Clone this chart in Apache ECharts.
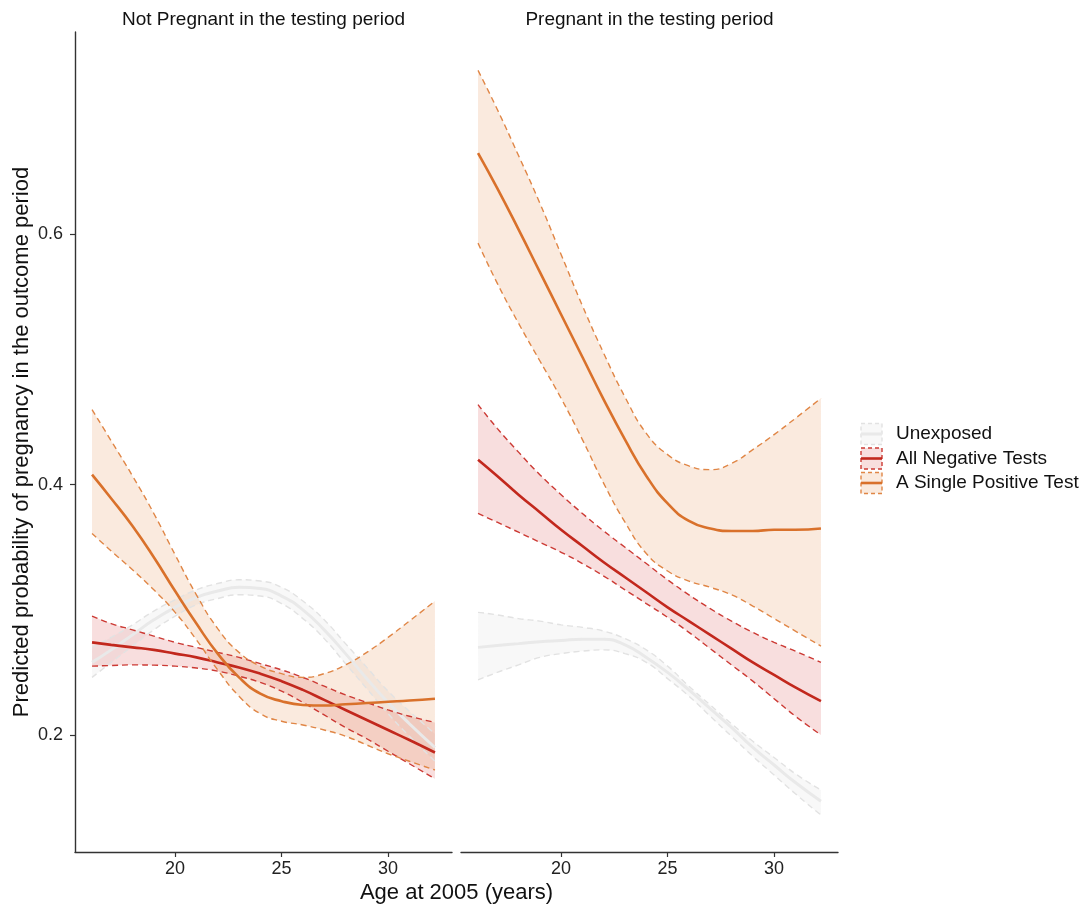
<!DOCTYPE html>
<html>
<head>
<meta charset="utf-8">
<script src="https://cdn.jsdelivr.net/npm/echarts@6/dist/echarts.min.js"></script>
<style>
  html, body { margin: 0; padding: 0; background: #fff; }
  #chart { width: 1087px; height: 908px; }
</style>
</head>
<body>
<div id="chart"></div>
<script>
// Age at 2005 (years) at which the fitted curves are evaluated
const ages = [16.1, 17, 18, 19, 20, 21, 22, 23, 24, 25, 26, 27, 28, 29, 30, 31, 32.2];

// Panel: Not Pregnant in the testing period
const notPregUnexposedFit   = [0.258, 0.268, 0.280, 0.292, 0.302, 0.310, 0.315, 0.318, 0.317, 0.311, 0.300, 0.284, 0.265, 0.245, 0.226, 0.209, 0.190];
const notPregUnexposedUpper = [0.270, 0.278, 0.288, 0.299, 0.308, 0.316, 0.321, 0.324, 0.323, 0.318, 0.307, 0.292, 0.273, 0.254, 0.235, 0.219, 0.201];
const notPregUnexposedLower = [0.246, 0.258, 0.271, 0.284, 0.295, 0.304, 0.309, 0.312, 0.311, 0.305, 0.293, 0.277, 0.257, 0.237, 0.217, 0.199, 0.179];

const notPregNegativeFit    = [0.274, 0.272, 0.270, 0.268, 0.265, 0.262, 0.258, 0.254, 0.249, 0.243, 0.236, 0.228, 0.220, 0.212, 0.204, 0.196, 0.186];
const notPregNegativeUpper  = [0.295, 0.289, 0.284, 0.279, 0.274, 0.270, 0.266, 0.262, 0.257, 0.252, 0.246, 0.239, 0.232, 0.226, 0.220, 0.215, 0.210];
const notPregNegativeLower  = [0.255, 0.2555, 0.256, 0.2558, 0.255, 0.2535, 0.251, 0.247, 0.242, 0.235, 0.226, 0.216, 0.206, 0.197, 0.187, 0.177, 0.165];

const notPregPositiveFit    = [0.408, 0.389, 0.367, 0.342, 0.315, 0.289, 0.265, 0.246, 0.233, 0.227, 0.224, 0.2235, 0.2245, 0.2255, 0.2265, 0.2275, 0.229];
const notPregPositiveUpper  = [0.460, 0.435, 0.407, 0.377, 0.344, 0.312, 0.285, 0.266, 0.255, 0.249, 0.246, 0.249, 0.256, 0.266, 0.278, 0.291, 0.307];
const notPregPositiveLower  = [0.361, 0.347, 0.332, 0.316, 0.298, 0.276, 0.252, 0.231, 0.217, 0.211, 0.208, 0.204, 0.199, 0.192, 0.185, 0.179, 0.172];

// Panel: Pregnant in the testing period
const pregUnexposedFit      = [0.270, 0.2715, 0.273, 0.2745, 0.2755, 0.2765, 0.2765, 0.272, 0.262, 0.250, 0.236, 0.221, 0.206, 0.190, 0.176, 0.162, 0.147];
const pregUnexposedUpper    = [0.298, 0.296, 0.293, 0.291, 0.288, 0.286, 0.283, 0.277, 0.268, 0.255, 0.239, 0.224, 0.209, 0.195, 0.182, 0.169, 0.156];
const pregUnexposedLower    = [0.244, 0.250, 0.256, 0.262, 0.265, 0.267, 0.268, 0.265, 0.258, 0.245, 0.231, 0.215, 0.199, 0.183, 0.168, 0.153, 0.136];

const pregNegativeFit       = [0.420, 0.407, 0.392, 0.378, 0.364, 0.351, 0.338, 0.326, 0.314, 0.302, 0.291, 0.280, 0.269, 0.258, 0.248, 0.238, 0.227];
const pregNegativeUpper     = [0.464, 0.445, 0.426, 0.408, 0.392, 0.377, 0.363, 0.350, 0.337, 0.324, 0.312, 0.301, 0.291, 0.282, 0.274, 0.267, 0.258];
const pregNegativeLower     = [0.377, 0.370, 0.362, 0.354, 0.346, 0.337, 0.327, 0.316, 0.305, 0.294, 0.282, 0.269, 0.256, 0.243, 0.229, 0.215, 0.200];

const pregPositiveFit       = [0.665, 0.637, 0.604, 0.570, 0.536, 0.502, 0.468, 0.436, 0.407, 0.385, 0.371, 0.365, 0.363, 0.363, 0.364, 0.364, 0.365];
const pregPositiveUpper     = [0.731, 0.700, 0.663, 0.625, 0.584, 0.543, 0.505, 0.470, 0.441, 0.424, 0.415, 0.412, 0.417, 0.428, 0.440, 0.453, 0.469];
const pregPositiveLower     = [0.593, 0.561, 0.529, 0.499, 0.469, 0.436, 0.401, 0.370, 0.345, 0.331, 0.323, 0.318, 0.312, 0.303, 0.293, 0.283, 0.271];

const panelTitles = ['Not Pregnant in the testing period', 'Pregnant in the testing period'];
const groupNames = ['Unexposed', 'All Negative Tests', 'A Single Positive Test'];
const xTicks = [20, 25, 30];
const yTicks = [0.2, 0.4, 0.6];

const groupStyles = [
  { line: '#e9e9e9', dash: '#e2e2e2', fill: 'rgba(225,225,225,0.22)', width: 3 },
  { line: '#c2281d', dash: '#cc3a34', fill: 'rgba(214,70,70,0.18)', width: 2.6 },
  { line: '#d9712b', dash: '#e08646', fill: 'rgba(232,148,92,0.2)', width: 2.6 }
];

const panels = [
  [
    [notPregUnexposedFit, notPregUnexposedLower, notPregUnexposedUpper],
    [notPregNegativeFit, notPregNegativeLower, notPregNegativeUpper],
    [notPregPositiveFit, notPregPositiveLower, notPregPositiveUpper]
  ],
  [
    [pregUnexposedFit, pregUnexposedLower, pregUnexposedUpper],
    [pregNegativeFit, pregNegativeLower, pregNegativeUpper],
    [pregPositiveFit, pregPositiveLower, pregPositiveUpper]
  ]
];

const FONT = '"Liberation Sans", Arial, Helvetica, sans-serif';
// rows are [probability, age]; the value comes first so stacking acts on it
const rows = vals => ages.map((a, i) => [vals[i], a]);

const series = [];
panels.forEach((groups, p) => {
  groups.forEach(([fit, lower, upper], g) => {
    const st = groupStyles[g];
    const stackId = 'band' + p + '-' + g;
    const common = {
      type: 'line', xAxisIndex: p, yAxisIndex: p, smooth: true,
      encode: { x: 1, y: 0 },
      showSymbol: false, symbol: 'none', silent: true, animation: false
    };
    // ribbon: invisible lower edge + stacked width
    series.push(Object.assign({}, common, {
      name: groupNames[g], stack: stackId, data: rows(lower),
      lineStyle: { opacity: 0 }
    }));
    series.push(Object.assign({}, common, {
      name: groupNames[g], stack: stackId,
      data: ages.map((a, i) => [upper[i] - lower[i], a]),
      lineStyle: { opacity: 0 }, areaStyle: { color: st.fill, opacity: 1 }
    }));
    // dashed confidence limits
    [lower, upper].forEach(edge => {
      series.push(Object.assign({}, common, {
        name: groupNames[g], data: rows(edge),
        lineStyle: { color: st.dash, width: 1.4, type: [6, 4] }
      }));
    });
    // fitted curve
    series.push(Object.assign({}, common, {
      name: groupNames[g], data: rows(fit), z: 3,
      lineStyle: { color: st.line, width: st.width }
    }));
  });
});

const axisColor = '#333333';
const gridBox = [
  { left: 75, top: 32, width: 377, height: 820 },
  { left: 461, top: 32, width: 377, height: 820 }
];

const xAxes = gridBox.map((_, i) => ({
  type: 'value', gridIndex: i, min: 15.3, max: 33.0,
  axisLine: { show: true, onZero: false, lineStyle: { color: axisColor, width: 1.4 } },
  axisTick: { show: true, customValues: xTicks, length: 5, lineStyle: { color: axisColor, width: 1.2 } },
  axisLabel: { customValues: xTicks, fontSize: 18, color: '#222', fontFamily: FONT, margin: 8 },
  splitLine: { show: false }
}));

const yAxes = gridBox.map((_, i) => ({
  type: 'value', gridIndex: i, min: 0.1065, max: 0.7617,
  axisLine: { show: i === 0, onZero: false, lineStyle: { color: axisColor, width: 1.4 } },
  axisTick: { show: i === 0, customValues: yTicks, length: 5, lineStyle: { color: axisColor, width: 1.2 } },
  axisLabel: { show: i === 0, customValues: yTicks, fontSize: 18, color: '#222', fontFamily: FONT, margin: 12,
               formatter: v => v.toFixed(1) },
  splitLine: { show: false }
}));

// legend keys: filled box with dashed outline and the fitted line across it
const legendItems = [];
groupNames.forEach((name, g) => {
  const st = groupStyles[g];
  const cy = 434 + g * 24.5;
  legendItems.push({
    type: 'rect', shape: { x: 861, y: cy - 10.5, width: 21, height: 21 },
    style: { fill: st.fill, stroke: st.dash, lineWidth: 1.4, lineDash: [4, 3] }
  });
  legendItems.push({
    type: 'line', shape: { x1: 861, y1: cy, x2: 882, y2: cy },
    style: { stroke: st.line, lineWidth: st.width }
  });
  legendItems.push({
    type: 'text', x: 896, y: cy,
    style: { text: name, fill: '#111', font: '19px ' + FONT, textVerticalAlign: 'middle' }
  });
});

const texts = [
  { type: 'text', x: 263.5, y: 20, style: { text: panelTitles[0], fill: '#111', font: '19px ' + FONT, textAlign: 'center', textVerticalAlign: 'middle' } },
  { type: 'text', x: 649.5, y: 20, style: { text: panelTitles[1], fill: '#111', font: '19px ' + FONT, textAlign: 'center', textVerticalAlign: 'middle' } },
  { type: 'text', x: 456.5, y: 893, style: { text: 'Age at 2005 (years)', fill: '#111', font: '22px ' + FONT, textAlign: 'center', textVerticalAlign: 'middle' } },
  { type: 'text', x: 22, y: 442, rotation: Math.PI / 2,
    style: { text: 'Predicted probability of pregnancy in the outcome period', fill: '#111', font: '22px ' + FONT, textAlign: 'center', textVerticalAlign: 'middle' } }
];

const chart = echarts.init(document.getElementById('chart'), null, { renderer: 'canvas' });
chart.setOption({
  animation: false,
  backgroundColor: '#ffffff',
  grid: gridBox,
  xAxis: xAxes,
  yAxis: yAxes,
  series: series,
  graphic: texts.concat(legendItems)
});
</script>
</body>
</html>
